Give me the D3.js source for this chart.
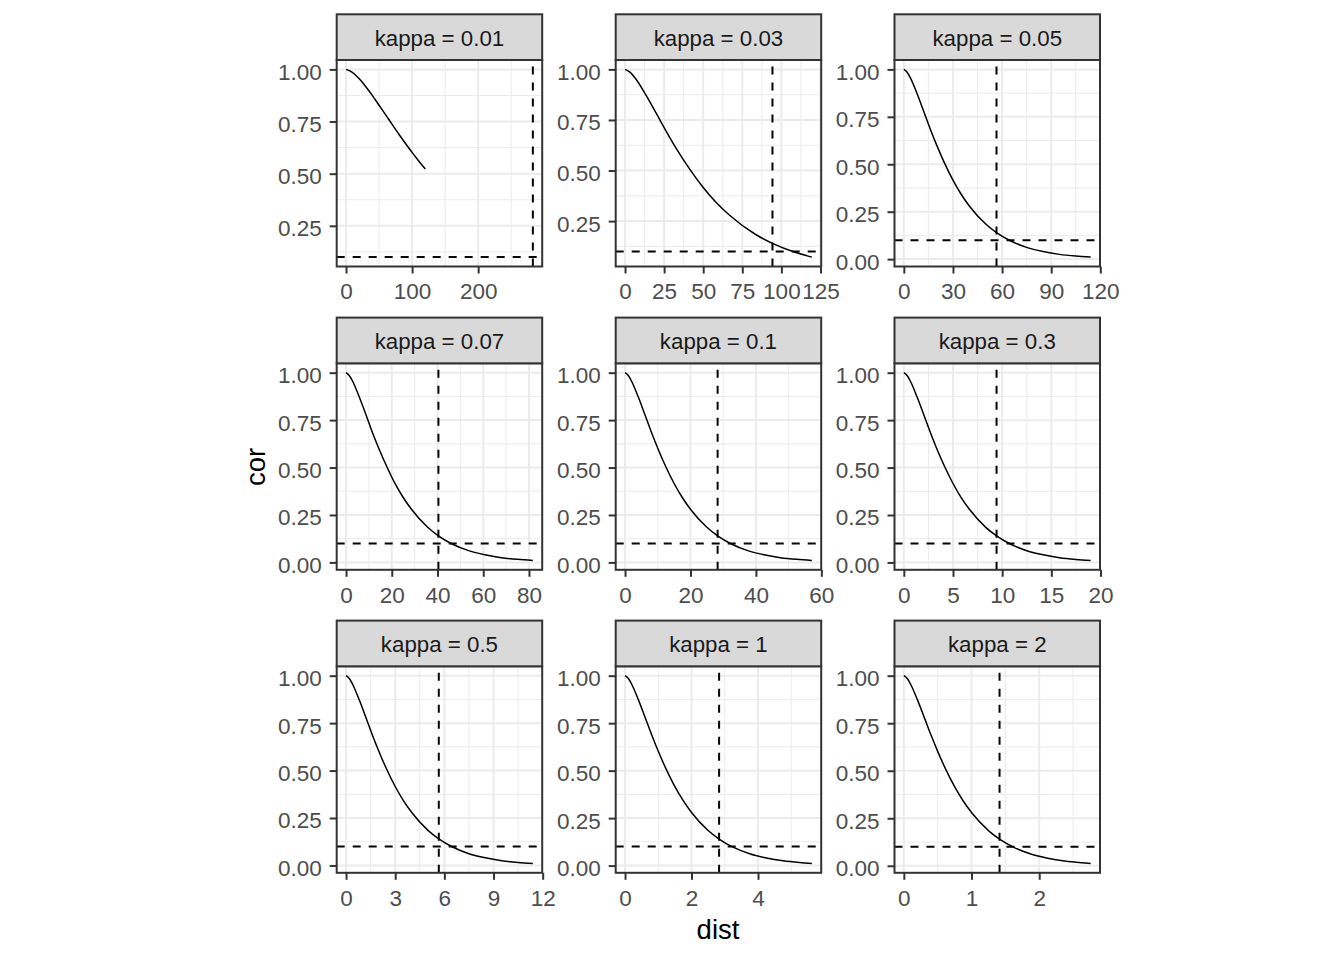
<!DOCTYPE html>
<html>
<head>
<meta charset="utf-8">
<script src="https://cdn.jsdelivr.net/npm/d3@7"></script>
<style>
  html, body { margin: 0; padding: 0; background: #ffffff; }
  svg { display: block; }
</style>
</head>
<body>
<svg id="chart" width="1344" height="960"></svg>
<script>
// ---------------- data ----------------
const panelLabels = ["kappa = 0.01", "kappa = 0.03", "kappa = 0.05",
                     "kappa = 0.07", "kappa = 0.1", "kappa = 0.3",
                     "kappa = 0.5", "kappa = 1", "kappa = 2"];

// dist values per panel
const dist_k001 = [0, 10, 20, 30, 40, 50, 60, 70, 80, 90, 100, 110, 120];
const dist_k003 = [0, 3.3, 6.7, 13.3, 20, 26.7, 33.3, 41.7, 50, 58.3, 66.7, 83.3, 94.3, 108.3, 119.5];
const dist_k005 = [0, 2, 4, 8, 12, 16, 20, 25, 30, 35, 40, 50, 56.6, 65, 75, 85, 95, 105, 114.1];
const dist_k007 = [0, 1.4, 2.9, 5.7, 8.6, 11.4, 14.3, 17.9, 21.4, 25, 28.6, 35.7, 40.4, 46.4, 53.6, 60.7, 67.9, 75, 81.7];
const dist_k01  = [0, 1, 2, 4, 6, 8, 10, 12.5, 15, 17.5, 20, 25, 28.3, 32.5, 37.5, 42.5, 47.5, 52.5, 57.1];
const dist_k03  = [0, 0.33, 0.67, 1.33, 2, 2.67, 3.33, 4.17, 5, 5.83, 6.67, 8.33, 9.43, 10.83, 12.5, 14.17, 15.83, 17.5, 19.0];
const dist_k05  = [0, 0.2, 0.4, 0.8, 1.2, 1.6, 2, 2.5, 3, 3.5, 4, 5, 5.66, 6.5, 7.5, 8.5, 9.5, 10.5, 11.4];
const dist_k1   = [0, 0.1, 0.2, 0.4, 0.6, 0.8, 1, 1.25, 1.5, 1.75, 2, 2.5, 2.83, 3.25, 3.75, 4.25, 4.75, 5.25, 5.62];
const dist_k2   = [0, 0.05, 0.1, 0.2, 0.3, 0.4, 0.5, 0.625, 0.75, 0.875, 1, 1.25, 1.414, 1.625, 1.875, 2.125, 2.375, 2.625, 2.76];

// cor values per panel
const cor_k001 = [1, 0.985, 0.955, 0.917, 0.874, 0.828, 0.782, 0.735, 0.689, 0.645, 0.602, 0.561, 0.522];
const cor_k003 = [1, 0.985, 0.955, 0.874, 0.782, 0.689, 0.602, 0.503, 0.416, 0.342, 0.280, 0.185, 0.140, 0.097, 0.072];
const cor_k005 = [1, 0.985, 0.955, 0.874, 0.782, 0.689, 0.602, 0.503, 0.416, 0.342, 0.280, 0.185, 0.140, 0.097, 0.062, 0.040, 0.025, 0.016, 0.0106];
const cor_k007 = [1, 0.985, 0.955, 0.874, 0.782, 0.689, 0.602, 0.503, 0.416, 0.342, 0.280, 0.185, 0.140, 0.097, 0.062, 0.040, 0.025, 0.016, 0.0104];
const cor_k01  = [1, 0.985, 0.955, 0.874, 0.782, 0.689, 0.602, 0.503, 0.416, 0.342, 0.280, 0.185, 0.140, 0.097, 0.062, 0.040, 0.025, 0.016, 0.0105];
const cor_k03  = [1, 0.985, 0.955, 0.874, 0.782, 0.689, 0.602, 0.503, 0.416, 0.342, 0.280, 0.185, 0.140, 0.097, 0.062, 0.040, 0.025, 0.016, 0.0107];
const cor_k05  = [1, 0.985, 0.955, 0.874, 0.782, 0.689, 0.602, 0.503, 0.416, 0.342, 0.280, 0.185, 0.140, 0.097, 0.062, 0.040, 0.025, 0.016, 0.0107];
const cor_k1   = [1, 0.985, 0.955, 0.874, 0.782, 0.689, 0.602, 0.503, 0.416, 0.342, 0.280, 0.185, 0.140, 0.097, 0.062, 0.040, 0.025, 0.016, 0.0115];
const cor_k2   = [1, 0.985, 0.955, 0.874, 0.782, 0.689, 0.602, 0.503, 0.416, 0.342, 0.280, 0.185, 0.140, 0.097, 0.062, 0.040, 0.025, 0.016, 0.0125];

const distPanels = [dist_k001, dist_k003, dist_k005, dist_k007, dist_k01, dist_k03, dist_k05, dist_k1, dist_k2];
const corPanels  = [cor_k001, cor_k003, cor_k005, cor_k007, cor_k01, cor_k03, cor_k05, cor_k1, cor_k2];

// dashed reference lines
const rangeValues = [282.8, 94.3, 56.6, 40.4, 28.3, 9.43, 5.66, 2.83, 1.414];
const hlineValue = 0.1;

// tick labels
const xTickValues = [[0, 100, 200], [0, 25, 50, 75, 100, 125], [0, 30, 60, 90, 120],
                     [0, 20, 40, 60, 80], [0, 20, 40, 60], [0, 5, 10, 15, 20],
                     [0, 3, 6, 9, 12], [0, 2, 4], [0, 1, 2]];
const yTickValues = [0, 0.25, 0.5, 0.75, 1];

// ---------------- layout ----------------
const FONT = "'Liberation Sans', Arial, Helvetica, sans-serif";
const W = 205.5, H = 206.5, STRIP = 45.7;
const colLeft = [336.7, 615.7, 894.5];
const rowTop = [60, 363.3, 666.3];

const svg = d3.select("#chart");

function minorOf(ticks, domain) {
  const res = [];
  if (ticks.length < 2) return res;
  const step = ticks[1] - ticks[0];
  const ext = [ticks[0] - step, ...ticks, ticks[ticks.length - 1] + step];
  for (let i = 0; i < ext.length - 1; i++) {
    const m = (ext[i] + ext[i + 1]) / 2;
    if (m >= domain[0] && m <= domain[1]) res.push(m);
  }
  return res;
}

const defs = svg.append("defs");

panelLabels.forEach((label, i) => {
  const col = i % 3, row = Math.floor(i / 3);
  const g = svg.append("g").attr("transform", `translate(${colLeft[col]},${rowTop[row]})`);
  const dist = distPanels[i], cor = corPanels[i];
  const data = dist.map((d, j) => ({ x: d, y: cor[j] }));

  const xMin = Math.min(d3.min(dist), rangeValues[i]);
  const xMax = Math.max(d3.max(dist), rangeValues[i]);
  const yMin = Math.min(d3.min(cor), hlineValue);
  const yMax = Math.max(d3.max(cor), hlineValue);
  const xPad = 0.05 * (xMax - xMin), yPad = 0.05 * (yMax - yMin);
  const x = d3.scaleLinear().domain([xMin - xPad, xMax + xPad]).range([0, W]);
  const y = d3.scaleLinear().domain([yMin - yPad, yMax + yPad]).range([H, 0]);

  const xt = xTickValues[i];
  const yt = yTickValues.filter(v => v >= y.domain()[0] && v <= y.domain()[1]);
  const xMinor = minorOf(xt, x.domain());
  const yMinor = minorOf(yt, y.domain());
  const xtIn = xt.filter(v => v >= x.domain()[0] && v <= x.domain()[1]);

  // background
  g.append("rect").attr("width", W).attr("height", H).attr("fill", "#ffffff");

  // minor grid
  g.selectAll(".gxm").data(xMinor).enter().append("line")
    .attr("x1", d => x(d)).attr("x2", d => x(d)).attr("y1", 0).attr("y2", H)
    .attr("stroke", "#EBEBEB").attr("stroke-width", 1);
  g.selectAll(".gym").data(yMinor).enter().append("line")
    .attr("y1", d => y(d)).attr("y2", d => y(d)).attr("x1", 0).attr("x2", W)
    .attr("stroke", "#EBEBEB").attr("stroke-width", 1);
  // major grid
  g.selectAll(".gx").data(xtIn).enter().append("line")
    .attr("x1", d => x(d)).attr("x2", d => x(d)).attr("y1", 0).attr("y2", H)
    .attr("stroke", "#EBEBEB").attr("stroke-width", 2);
  g.selectAll(".gy").data(yt).enter().append("line")
    .attr("y1", d => y(d)).attr("y2", d => y(d)).attr("x1", 0).attr("x2", W)
    .attr("stroke", "#EBEBEB").attr("stroke-width", 2);

  // clip
  const cid = "clip" + i;
  defs.append("clipPath").attr("id", cid).append("rect").attr("width", W).attr("height", H);
  const plot = g.append("g").attr("clip-path", `url(#${cid})`);

  // curve
  plot.append("path").datum(data)
    .attr("fill", "none").attr("stroke", "#000000").attr("stroke-width", 1.5)
    .attr("stroke-linejoin", "round")
    .attr("d", d3.line().x(d => x(d.x)).y(d => y(d.y)).curve(d3.curveMonotoneX));

  // dashed lines
  plot.append("line")
    .attr("x1", 0).attr("x2", W).attr("y1", y(hlineValue)).attr("y2", y(hlineValue))
    .attr("stroke", "#000").attr("stroke-width", 2).attr("stroke-dasharray", "8,8");
  plot.append("line")
    .attr("x1", x(rangeValues[i])).attr("x2", x(rangeValues[i])).attr("y1", H).attr("y2", 0)
    .attr("stroke", "#000").attr("stroke-width", 2).attr("stroke-dasharray", "8,8");

  // border
  g.append("rect").attr("width", W).attr("height", H)
    .attr("fill", "none").attr("stroke", "#333333").attr("stroke-width", 2);

  // strip
  g.append("rect").attr("x", 0).attr("y", -STRIP).attr("width", W).attr("height", STRIP)
    .attr("fill", "#D9D9D9").attr("stroke", "#333333").attr("stroke-width", 2);
  g.append("text").attr("x", W / 2).attr("y", -14)
    .attr("text-anchor", "middle").attr("font-family", FONT).attr("font-size", 22.3)
    .attr("fill", "#1A1A1A").text(label);

  // axes
  const xAxis = g.append("g").attr("transform", `translate(0,${H})`)
    .call(d3.axisBottom(x).tickValues(xt).tickSize(7).tickPadding(10).tickFormat(d3.format("d")));
  const yAxis = g.append("g")
    .call(d3.axisLeft(y).tickValues(yt).tickSize(7).tickPadding(8).tickFormat(d3.format(".2f")));
  [xAxis, yAxis].forEach(ax => {
    ax.select(".domain").remove();
    ax.selectAll(".tick line").attr("stroke", "#333333").attr("stroke-width", 2);
    ax.selectAll(".tick text").attr("font-family", FONT).attr("font-size", 22.5).attr("fill", "#4D4D4D");
  });
  yAxis.selectAll(".tick text").attr("dy", "0.44em");
});

// axis titles
svg.append("text").attr("x", 718).attr("y", 939)
  .attr("text-anchor", "middle").attr("font-family", FONT).attr("font-size", 27.5)
  .attr("fill", "#000").text("dist");
svg.append("text").attr("transform", "translate(265,467) rotate(-90)")
  .attr("text-anchor", "middle").attr("font-family", FONT).attr("font-size", 27.5)
  .attr("fill", "#000").text("cor");
</script>
</body>
</html>
